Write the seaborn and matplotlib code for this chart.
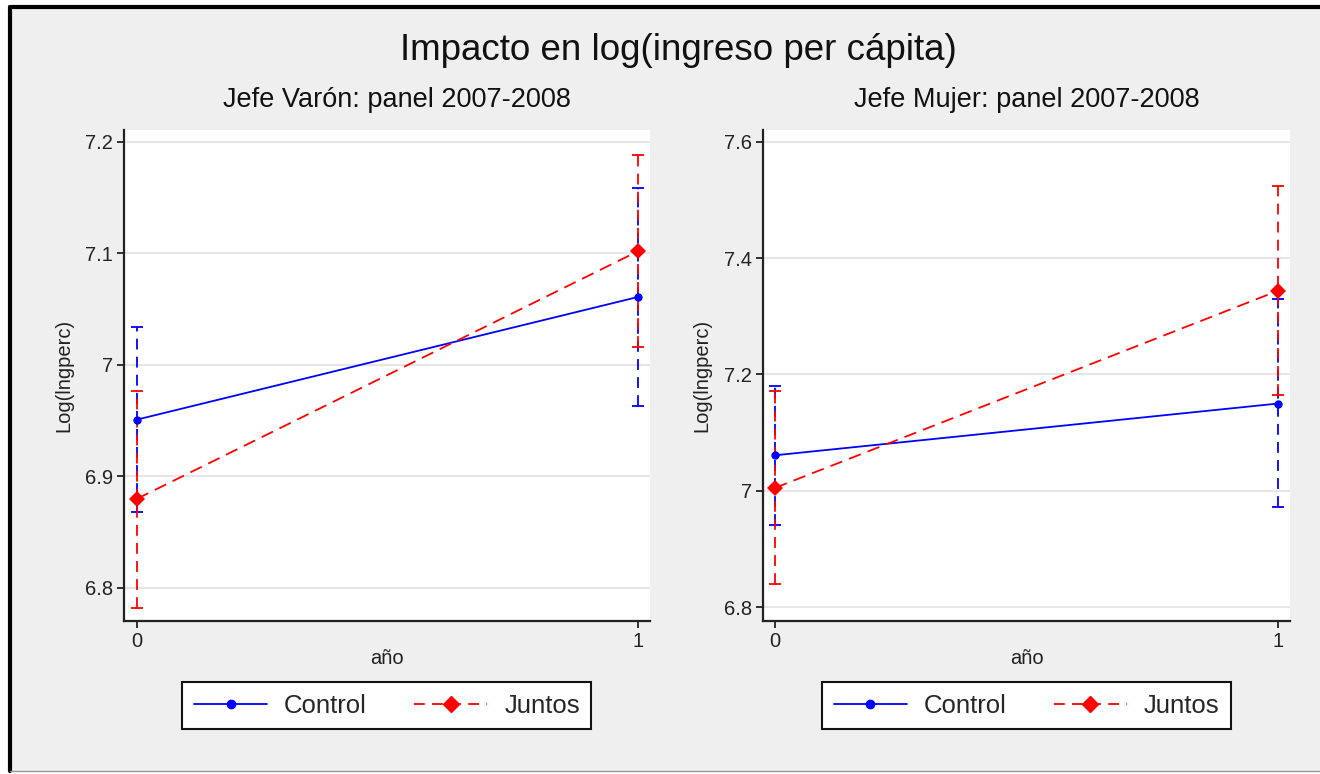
import pandas as pd
import seaborn as sns
import matplotlib.pyplot as plt
from matplotlib.lines import Line2D
from matplotlib.patches import Rectangle

# Datos (año 0 = 2007, año 1 = 2008)
anios = [0, 1]
grupos = ['Control', 'Juntos']

# Jefe Varón
varon_control = [6.951, 7.061]
varon_control_lo = [6.868, 6.963]
varon_control_hi = [7.034, 7.159]
varon_juntos = [6.880, 7.102]
varon_juntos_lo = [6.782, 7.016]
varon_juntos_hi = [6.977, 7.188]

# Jefe Mujer
mujer_control = [7.061, 7.150]
mujer_control_lo = [6.941, 6.972]
mujer_control_hi = [7.180, 7.329]
mujer_juntos = [7.005, 7.344]
mujer_juntos_lo = [6.839, 7.165]
mujer_juntos_hi = [7.172, 7.524]

titulo = 'Impacto en log(ingreso per cápita)'
subtitulos = ['Jefe Varón: panel 2007-2008', 'Jefe Mujer: panel 2007-2008']
yticks_varon = [6.8, 6.9, 7.0, 7.1, 7.2]
yticks_mujer = [6.8, 7.0, 7.2, 7.4, 7.6]

colores = {'Control': '#0000ff', 'Juntos': '#ff0000'}
marcadores = {'Control': 'o', 'Juntos': 'D'}
trazos = {'Control': '', 'Juntos': (7, 4)}

sns.set_theme(style='white')
plt.rcParams['font.family'] = ['Liberation Sans', 'DejaVu Sans']

fig = plt.figure(figsize=(13.2, 7.74), dpi=100, facecolor='white')

# Marco de fondo estilo Stata
fig.add_artist(Rectangle((0.0076, 0.004), 0.993, 0.987, transform=fig.transFigure,
                         facecolor='#efefef', edgecolor='none', zorder=-2))
fig.add_artist(Line2D([0.0076, 1], [0.991, 0.991], transform=fig.transFigure,
                      color='black', lw=3, zorder=-1))
fig.add_artist(Line2D([0.0076, 0.0076], [0.004, 0.991], transform=fig.transFigure,
                      color='black', lw=3, zorder=-1))
fig.add_artist(Line2D([0.0076, 1], [0.004, 0.004], transform=fig.transFigure,
                      color='#999999', lw=1, zorder=-1))

fig.text(0.514, 0.935, titulo, ha='center', va='center', fontsize=26.5, color='#111111')

paneles = [
    dict(pos=[0.0939, 0.1977, 0.3985, 0.6344], ylim=(6.7704, 7.2108), yticks=yticks_varon,
         ctl=varon_control, ctl_lo=varon_control_lo, ctl_hi=varon_control_hi,
         jun=varon_juntos, jun_lo=varon_juntos_lo, jun_hi=varon_juntos_hi,
         sub_x=0.3008, xlim=(-0.026, 1.024)),
    dict(pos=[0.578, 0.1977, 0.3993, 0.6344], ylim=(6.776, 7.6206), yticks=yticks_mujer,
         ctl=mujer_control, ctl_lo=mujer_control_lo, ctl_hi=mujer_control_hi,
         jun=mujer_juntos, jun_lo=mujer_juntos_lo, jun_hi=mujer_juntos_hi,
         sub_x=0.778, xlim=(-0.024, 1.024)),
]

for i, p in enumerate(paneles):
    ax = fig.add_axes(p['pos'])
    ax.set_facecolor('white')

    df = pd.DataFrame({
        'año': anios + anios,
        'valor': p['ctl'] + p['jun'],
        'grupo': ['Control'] * 2 + ['Juntos'] * 2,
    })

    # Intervalos de confianza (líneas discontinuas con topes)
    for g, med, lo, hi in [('Control', p['ctl'], p['ctl_lo'], p['ctl_hi']),
                           ('Juntos', p['jun'], p['jun_lo'], p['jun_hi'])]:
        err = [[m - l for m, l in zip(med, lo)], [h - m for m, h in zip(med, hi)]]
        eb = ax.errorbar(anios, med, yerr=err, fmt='none', ecolor=colores[g],
                         elinewidth=1.3, capsize=4.5, capthick=1.3, zorder=2)
        eb[2][0].set_linestyle((0, (6, 4)))

    sns.lineplot(data=df, x='año', y='valor', hue='grupo', style='grupo',
                 palette=colores, markers=marcadores, dashes=trazos,
                 markersize=6, markeredgewidth=0, linewidth=1.3,
                 legend=False, ax=ax, zorder=3)
    for ln in ax.lines:
        if ln.get_marker() == 'D':
            ln.set_markersize(8.5)
        elif ln.get_marker() == 'o':
            ln.set_markersize(6)

    ax.set_xlim(*p['xlim'])
    ax.set_ylim(*p['ylim'])
    ax.set_xticks([0, 1])
    ax.set_xticklabels(['0', '1'])
    ax.set_yticks(p['yticks'])
    ax.set_yticklabels([f'{v:g}' for v in p['yticks']])
    ax.yaxis.grid(True, color='#e6e6e6', lw=1.5)
    ax.xaxis.grid(False)
    ax.set_axisbelow(True)

    for s in ['top', 'right']:
        ax.spines[s].set_visible(False)
    for s in ['left', 'bottom']:
        ax.spines[s].set_color('#222222')
        ax.spines[s].set_linewidth(1.6)
    ax.tick_params(axis='both', direction='out', length=5, width=1.3, color='#222222',
                   labelsize=14.5, labelcolor='#222222', pad=3, left=True, bottom=True)

    ax.set_xlabel('año', fontsize=14.5, color='#222222')
    ax.set_ylabel('Log(lngperc)', fontsize=14.5, color='#222222')
    ax.xaxis.set_label_coords(0.5, -0.058)
    ax.yaxis.set_label_coords(-0.097, 0.5)

    fig.text(p['sub_x'], 0.8708, subtitulos[i], ha='center', va='center',
             fontsize=19.5, color='#111111')

    handles = [Line2D([], [], color=colores[g], marker=marcadores[g], lw=1.3,
                      markersize=6 if g == 'Control' else 8,
                      linestyle='-' if g == 'Control' else (0, (6, 4)))
               for g in grupos]
    leg = ax.legend(handles, grupos, loc='center', bbox_to_anchor=(0.5, -0.173),
                    ncol=2, frameon=True, fancybox=False, fontsize=18.5,
                    handlelength=2.85, handletextpad=0.66, columnspacing=1.83,
                    borderpad=0.45, borderaxespad=0)
    leg.get_frame().set_edgecolor('#111111')
    leg.get_frame().set_linewidth(1.5)
    leg.get_frame().set_facecolor('white')
    leg.get_frame().set_alpha(1)

fig.savefig('out.png', dpi=100, facecolor=fig.get_facecolor())
